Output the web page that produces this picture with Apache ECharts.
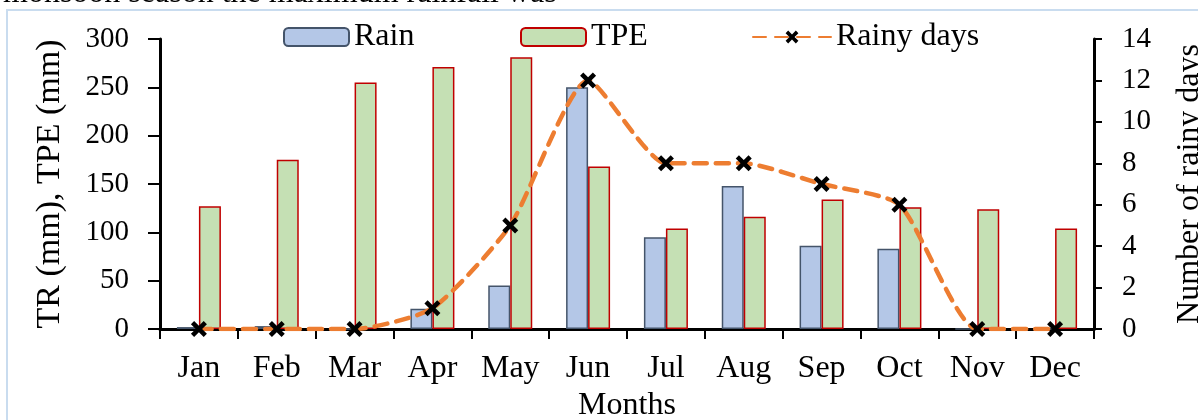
<!DOCTYPE html>
<html>
<head>
<meta charset="utf-8">
<script src="https://cdn.jsdelivr.net/npm/echarts@6/dist/echarts.min.js"></script>
<style>
html,body{margin:0;padding:0;background:#fff;}
#chart{width:1198px;height:420px;}
</style>
</head>
<body>
<div id="chart"></div>
<script>
var months = ['Jan','Feb','Mar','Apr','May','Jun','Jul','Aug','Sep','Oct','Nov','Dec'];
var rain = [2, 3, 0, 21, 45, 250, 95, 148, 86, 83, 0, 0];
var tpe = [127, 175, 255, 271, 281, 168, 104, 116, 134, 126, 124, 104];
var rainyDays = [0, 0, 0, 1, 5, 12, 8, 8, 7, 6, 0, 0];
var leftTicks = {min: 0, max: 300, interval: 50};
var rightTicks = {min: 0, max: 14, interval: 2};

var FONT = 'Liberation Serif';
var TICK_FS = 29;
var BIG_FS = 32;
var xMark = 'path://M0,2 L2,0 L5,3 L8,0 L10,2 L7,5 L10,8 L8,10 L5,7 L2,10 L0,8 L3,5 Z';

var chart = echarts.init(document.getElementById('chart'), null, {renderer: 'canvas'});
var legendBase = {
  top: 21, padding: 0, orient: 'horizontal', itemHeight: 18,
  textStyle: {fontFamily: FONT, fontSize: BIG_FS, color: '#000'}
};
chart.setOption({
  animation: false,
  backgroundColor: '#fff',
  textStyle: {fontFamily: FONT},
  graphic: [
    {type: 'rect', shape: {x: 7, y: 10, width: 1400, height: 600}, style: {fill: 'none', stroke: '#C9DCEF', lineWidth: 2}, z: -1},
    {type: 'text', left: 3, top: -22, style: {text: 'monsoon season the maximum rainfall was', font: BIG_FS + 'px "' + FONT + '"', fill: '#000'}}
  ],
  legend: [
    Object.assign({}, legendBase, {left: 283, itemWidth: 65, data: ['Rain']}),
    Object.assign({}, legendBase, {left: 520, itemWidth: 65, data: ['TPE']}),
    Object.assign({}, legendBase, {left: 752, itemWidth: 78, itemHeight: 16, data: ['Rainy days']})
  ],
  grid: {left: 160, right: 104, top: 39, bottom: 91, outerBoundsMode: 'none', containLabel: false},
  xAxis: {
    type: 'category', data: months, boundaryGap: true,
    name: 'Months', nameLocation: 'middle', nameGap: 60,
    nameTextStyle: {fontFamily: FONT, fontSize: BIG_FS, color: '#000'},
    axisLine: {lineStyle: {color: '#000', width: 3}},
    axisTick: {show: true, length: 10, lineStyle: {color: '#000', width: 2}},
    axisLabel: {margin: 24, fontFamily: FONT, fontSize: BIG_FS, color: '#000'}
  },
  yAxis: [
    {
      type: 'value', min: leftTicks.min, max: leftTicks.max, interval: leftTicks.interval,
      name: 'TR (mm), TPE (mm)', nameLocation: 'middle', nameGap: 93, nameRotate: 90,
      nameTextStyle: {fontFamily: FONT, fontSize: 34, color: '#000'},
      axisLine: {show: true, lineStyle: {color: '#000', width: 3}},
      axisTick: {show: true, length: 12, lineStyle: {color: '#000', width: 2}},
      axisLabel: {margin: 31, fontFamily: FONT, fontSize: TICK_FS, color: '#000'},
      splitLine: {show: false}
    },
    {
      type: 'value', min: rightTicks.min, max: rightTicks.max, interval: rightTicks.interval,
      position: 'right',
      name: 'Number of rainy days', nameLocation: 'middle', nameGap: 80, nameRotate: 90,
      nameTextStyle: {fontFamily: FONT, fontSize: BIG_FS, color: '#000'},
      axisLine: {show: true, lineStyle: {color: '#000', width: 3}},
      axisTick: {show: true, length: 8, lineStyle: {color: '#000', width: 2}},
      axisLabel: {margin: 28, fontFamily: FONT, fontSize: TICK_FS, color: '#000'},
      splitLine: {show: false}
    }
  ],
  series: [
    {
      name: 'Rain', type: 'bar', data: rain, barWidth: 22, barGap: '0%',
      itemStyle: {color: '#B4C7E7', borderColor: '#44546A', borderWidth: 1.5}
    },
    {
      name: 'TPE', type: 'bar', data: tpe, barWidth: 22, barGap: '0%',
      itemStyle: {color: '#C5E0B4', borderColor: '#C00000', borderWidth: 1.5}
    },
    {
      name: 'Rainy days', type: 'line', yAxisIndex: 1, data: rainyDays,
      smooth: 0.2, symbol: xMark, symbolSize: 16, z: 5,
      itemStyle: {color: '#000', borderWidth: 0},
      lineStyle: {color: '#ED7D31', width: 4.5, type: [13, 9], cap: 'round'}
    }
  ]
});
</script>
</body>
</html>
